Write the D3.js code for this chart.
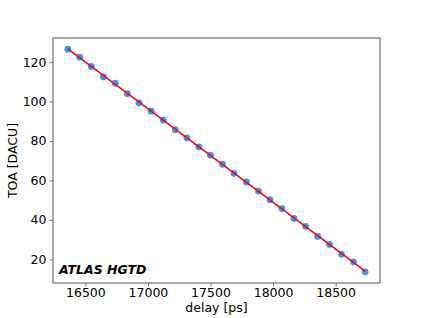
<!DOCTYPE html>
<html>
<head>
<meta charset="utf-8">
<script src="https://cdn.jsdelivr.net/npm/d3@7"></script>
<style>
  body { margin: 0; background: #fff; }
  svg { display: block; font-family: "DejaVu Sans", sans-serif; }
</style>
</head>
<body>
<svg id="chart" width="423" height="318"></svg>
<script>
// delay [ps]
const delays = [
  16360, 16455, 16548, 16644, 16739, 16835, 16928, 17026, 17122, 17218,
  17311, 17407, 17500, 17596, 17688, 17787, 17883, 17975, 18071, 18167,
  18260, 18356, 18452, 18548, 18643, 18736
];
// TOA [DACU]
const toa = [
  126.6, 122.5, 117.8, 112.5, 109.3, 104.0, 99.4, 95.1, 90.6, 85.7,
  81.6, 77.0, 72.8, 68.2, 63.6, 59.2, 54.6, 50.2, 45.7, 40.7,
  36.7, 31.6, 27.5, 22.5, 18.7, 13.6
];
const xTicks = [16500, 17000, 17500, 18000, 18500];
const yTicks = [20, 40, 60, 80, 100, 120];

const svg = d3.select("#chart");
const margin = { top: 38, right: 43, bottom: 35, left: 53 };
const width = 423 - margin.left - margin.right;
const height = 318 - margin.top - margin.bottom;
const fontSize = "12.5px";

const data = delays.map((d, i) => ({ x: d, y: toa[i] }));

// matplotlib style 5% padding
const pad = (ext) => {
  const r = ext[1] - ext[0];
  return [ext[0] - 0.05 * r, ext[1] + 0.05 * r];
};

const xScale = d3.scaleLinear().domain(pad(d3.extent(delays))).range([0, width]);
const yScale = d3.scaleLinear().domain(pad(d3.extent(toa))).range([height, 0]);

const g = svg.append("g").attr("transform", `translate(${margin.left}, ${margin.top})`);

// linear fit of the points
const mx = d3.mean(delays), my = d3.mean(toa);
const slope = d3.sum(data, (d) => (d.x - mx) * (d.y - my)) / d3.sum(data, (d) => (d.x - mx) ** 2);
const icpt = my - slope * mx;
const fitX = d3.extent(delays);

// axes
const xAxis = g.append("g")
  .attr("transform", `translate(0, ${height})`)
  .call(d3.axisBottom(xScale).tickValues(xTicks).tickSize(3.5).tickPadding(2).tickFormat(d3.format("d")));
const yAxis = g.append("g")
  .call(d3.axisLeft(yScale).tickValues(yTicks).tickSize(3.5).tickPadding(3));
[xAxis, yAxis].forEach((a) => {
  a.select(".domain").remove();
  a.selectAll("line").attr("stroke", "#555").attr("stroke-width", 0.8);
  a.selectAll("text").attr("fill", "#000").style("font-size", fontSize).style("font-family", "DejaVu Sans");
});

// frame
g.append("rect")
  .attr("width", width)
  .attr("height", height)
  .attr("fill", "none")
  .attr("stroke", "#555")
  .attr("stroke-width", 1);

// points
g.selectAll(".pt")
  .data(data)
  .enter()
  .append("circle")
  .attr("class", "pt")
  .attr("cx", (d) => xScale(d.x))
  .attr("cy", (d) => yScale(d.y))
  .attr("r", 3.4)
  .attr("fill", "#3b95f5");

// fit line
g.append("line")
  .attr("x1", xScale(fitX[0]))
  .attr("y1", yScale(slope * fitX[0] + icpt))
  .attr("x2", xScale(fitX[1]))
  .attr("y2", yScale(slope * fitX[1] + icpt))
  .attr("stroke", "#ff0000")
  .attr("stroke-width", 1.5);

// labels
g.append("text")
  .attr("x", width / 2)
  .attr("y", height + 29)
  .attr("text-anchor", "middle")
  .style("font-size", fontSize)
  .text("delay [ps]");

g.append("text")
  .attr("transform", "rotate(-90)")
  .attr("x", -height / 2)
  .attr("y", -36)
  .attr("text-anchor", "middle")
  .style("font-size", fontSize)
  .text("TOA [DACU]");

g.append("text")
  .attr("x", 6)
  .attr("y", height - 9)
  .style("font-size", fontSize)
  .style("font-weight", "bold")
  .style("font-style", "italic")
  .text("ATLAS HGTD");
</script>
</body>
</html>
